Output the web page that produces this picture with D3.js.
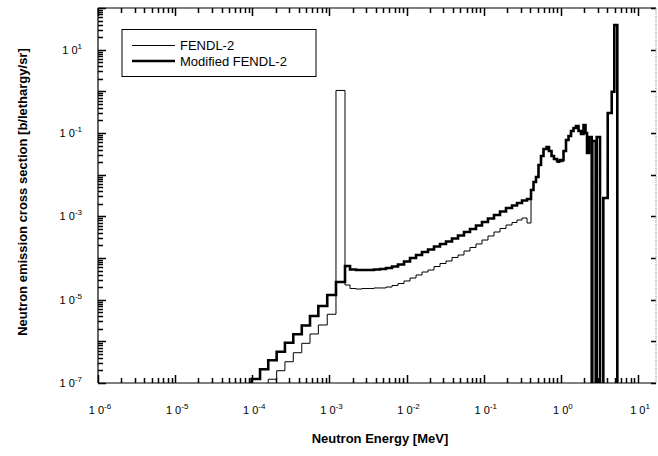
<!DOCTYPE html>
<html>
<head>
<meta charset="utf-8">
<script src="https://cdn.jsdelivr.net/npm/d3@7"></script>
<style>
body { margin: 0; background: #fff; }
text { font-family: "Liberation Sans", Arial, Helvetica, sans-serif; fill: #000; }
</style>
</head>
<body>
<svg id="chart" width="658" height="456"></svg>
<script>
// Group boundaries of the histogram (MeV)
const energyEdges = [
    7.7e-5, 9.8e-5, 1.26e-4, 1.61e-4, 2.07e-4, 2.65e-4, 3.40e-4, 4.38e-4, 5.60e-4, 7.18e-4,
    9.37e-4, 1.216e-3, 1.592e-3, 1.849e-3, 2.213e-3, 2.644e-3, 3.162e-3, 3.785e-3, 4.528e-3, 5.41e-3,
    6.48e-3, 7.74e-3, 9.27e-3, 1.109e-2, 1.326e-2, 1.586e-2, 1.897e-2, 2.269e-2, 2.713e-2, 3.245e-2,
    3.881e-2, 4.643e-2, 5.55e-2, 6.64e-2, 7.94e-2, 9.50e-2, 0.1136, 0.1359, 0.1626, 0.1945,
    0.2327, 0.2702, 0.3137, 0.3643, 0.4104, 0.442, 0.476, 0.513, 0.553, 0.596,
    0.652, 0.702, 0.757, 0.815, 0.892, 0.975, 1.083, 1.166, 1.257, 1.354,
    1.459, 1.572, 1.694, 1.825, 1.967, 2.088, 2.184, 2.318, 2.512, 2.557,
    2.830, 2.917, 3.219, 3.552, 4.051, 4.563, 4.932, 5.393, 17
];

// FENDL-2 (thin line), one value per group, b/lethargy/sr (1e-9 = empty group)
const fendlValues = [
    1e-9, 1e-9, 1e-9, 1.23e-7, 1.97e-7, 3.24e-7, 5.33e-7, 8.97e-7, 1.50e-6, 2.47e-6,
    4.46e-6, 1.05,
    2.25e-5, 1.85e-5, 1.80e-5, 1.85e-5, 1.85e-5, 1.91e-5, 1.91e-5, 2.01e-5, 2.19e-5, 2.44e-5,
    2.81e-5, 3.31e-5, 3.91e-5, 4.61e-5, 5.15e-5, 6.25e-5, 7.38e-5, 8.47e-5, 1.03e-4, 1.18e-4,
    1.47e-4, 1.79e-4, 2.17e-4, 2.70e-4, 3.37e-4, 4.21e-4, 5.11e-4, 6.19e-4, 7.11e-4, 8.17e-4,
    9.12e-4,
    6.92e-4, 4.29e-3, 6.67e-3, 8.79e-3, 1.71e-2, 2.81e-2, 4.13e-2, 4.61e-2, 3.70e-2, 2.81e-2,
    2.38e-2, 1.95e-2, 2.05e-2, 3.70e-2, 6.79e-2, 8.47e-2, 0.112, 0.132, 0.147, 0.112,
    9.46e-2, 0.156, 0.100, 3.31e-2, 8.02e-2, 1e-9, 6.43e-2, 1e-9, 8.02e-2, 1e-9,
    2.75e-3, 0.302, 0.98, 39, 1e-9
];

// Modified FENDL-2 (thick line)
const modifiedValues = [
    1e-9, 1.25e-7, 2.13e-7, 3.51e-7, 5.64e-7, 9.27e-7, 1.48e-6, 2.39e-6, 4.05e-6, 7.05e-6,
    1.29e-5, 2.65e-5,
    6.43e-5, 5.30e-5, 5.15e-5, 5.15e-5, 5.15e-5, 5.30e-5, 5.45e-5, 5.75e-5, 6.25e-5, 6.98e-5,
    8.24e-5, 1.00e-4, 1.18e-4, 1.39e-4, 1.60e-4, 1.89e-4, 2.17e-4, 2.49e-4, 2.94e-4, 3.47e-4,
    4.21e-4, 4.97e-4, 6.03e-4, 7.31e-4, 8.87e-4, 1.08e-3, 1.31e-3, 1.58e-3, 1.82e-3, 2.09e-3,
    2.40e-3,
    2.61e-3, 4.29e-3, 6.67e-3, 8.79e-3, 1.71e-2, 2.81e-2, 4.13e-2, 4.61e-2, 3.70e-2, 2.81e-2,
    2.38e-2, 2.13e-2, 2.25e-2, 3.70e-2, 6.79e-2, 8.47e-2, 0.112, 0.132, 0.147, 0.112,
    9.46e-2, 0.156, 0.100, 3.31e-2, 8.02e-2, 1e-9, 6.43e-2, 1e-9, 8.02e-2, 1e-9,
    2.75e-3, 0.302, 0.98, 39, 1e-9
];

// Axis decades
const xDecades = [-6, -5, -4, -3, -2, -1, 0, 1];
const yDecades = [-7, -6, -5, -4, -3, -2, -1, 0, 1, 2];
const yLabelDecades = [-7, -5, -3, -1, 1];

const legendLabels = ["FENDL-2", "Modified FENDL-2"];

// plot box
const box = { left: 98, right: 656, top: 8, bottom: 383 };

const svg = d3.select("#chart");

const x = d3.scaleLog().domain([1e-6, 1e1]).range([box.left, 638]);
const y = d3.scaleLog().domain([1e-7, 1e2]).range([box.bottom, box.top]);
const xMax = x.invert(box.right);

// minor tick values 2..9 per decade
function minorTicks(decades, maxValue) {
    const out = [];
    decades.forEach(function(d) {
        for (let k = 2; k <= 9; k++) {
            const v = k * Math.pow(10, d);
            if (v < maxValue) out.push(v);
        }
    });
    return out;
}

const xMajor = xDecades.map(d => Math.pow(10, d));
const yMajor = yDecades.map(d => Math.pow(10, d));
const xMinor = minorTicks(xDecades, xMax);
const yMinor = minorTicks(yDecades.slice(0, -1), 100);

svg.append("defs").append("clipPath")
    .attr("id", "plot-clip")
    .append("rect")
    .attr("x", box.left)
    .attr("y", box.top)
    .attr("width", box.right - box.left)
    .attr("height", box.bottom - box.top);

// ticks drawn inward from the frame as small filled rects
const tickG = svg.append("g").attr("fill", "#000");

function addXTicks(values, len) {
    [box.bottom - len, box.top].forEach(function(top) {
        tickG.append("g").selectAll("rect")
            .data(values)
            .enter().append("rect")
            .attr("x", d => Math.round(x(d)) - 0.25)
            .attr("y", top)
            .attr("width", 1.5)
            .attr("height", len);
    });
}
function addYTicks(values, xPos, len) {
    tickG.append("g").selectAll("rect")
        .data(values)
        .enter().append("rect")
        .attr("x", len > 0 ? xPos : xPos + len)
        .attr("y", d => Math.round(y(d)) - 0.25)
        .attr("width", Math.abs(len))
        .attr("height", 1.5);
}
addXTicks(xMajor, 8);
addXTicks(xMinor, 5);
addYTicks(yMajor, box.left, 8);
addYTicks(yMinor, box.left, 5);
addYTicks(yMajor, box.right, -5);

// frame
svg.append("line").attr("x1", box.left).attr("x2", box.left).attr("y1", box.top).attr("y2", box.bottom)
    .attr("stroke", "#000").attr("stroke-width", 1.2);
svg.append("line").attr("x1", box.left).attr("x2", box.right).attr("y1", box.bottom).attr("y2", box.bottom)
    .attr("stroke", "#000").attr("stroke-width", 1.2);
svg.append("line").attr("x1", box.left).attr("x2", box.right).attr("y1", box.top).attr("y2", box.top)
    .attr("stroke", "#000").attr("stroke-width", 1.2);
svg.append("line").attr("x1", box.right).attr("x2", box.right).attr("y1", box.top).attr("y2", box.bottom)
    .attr("stroke", "#888").attr("stroke-width", 1).attr("stroke-dasharray", "1,1");

// tick labels: "1 0" with superscript exponent
function powerLabel(sel, exp) {
    sel.append("tspan").text("1 0");
    sel.append("tspan").attr("dy", -5).attr("font-size", "8px").text(exp);
}

xDecades.forEach(function(d) {
    svg.append("text")
        .attr("x", x(Math.pow(10, d)) + 2)
        .attr("y", 414)
        .attr("text-anchor", "middle")
        .attr("font-size", "11px")
        .call(powerLabel, d);
});

yLabelDecades.forEach(function(d) {
    svg.append("text")
        .attr("x", 82)
        .attr("y", y(Math.pow(10, d)) + 4)
        .attr("text-anchor", "end")
        .attr("font-size", "11px")
        .call(powerLabel, d);
});

// axis titles
svg.append("text")
    .attr("x", 380)
    .attr("y", 443)
    .attr("text-anchor", "middle")
    .attr("font-size", "13px")
    .attr("font-weight", "bold")
    .text("Neutron Energy [MeV]");

svg.append("text")
    .attr("transform", "translate(27,192) rotate(-90)")
    .attr("text-anchor", "middle")
    .attr("font-size", "13px")
    .attr("font-weight", "bold")
    .text("Neutron emission cross section [b/lethargy/sr]");

// histogram lines
const stepLine = d3.line()
    .x(d => x(d[0]))
    .y(d => y(d[1]))
    .curve(d3.curveStepAfter);

function histPoints(values) {
    return energyEdges.map((e, i) => [e, values[Math.min(i, values.length - 1)]]);
}

const curves = svg.append("g").attr("clip-path", "url(#plot-clip)");

curves.append("path")
    .datum(histPoints(fendlValues))
    .attr("d", stepLine)
    .attr("fill", "none")
    .attr("stroke", "#000")
    .attr("stroke-width", 1);

curves.append("path")
    .datum(histPoints(modifiedValues))
    .attr("d", stepLine)
    .attr("fill", "none")
    .attr("stroke", "#000")
    .attr("stroke-width", 2.6);

// legend
const legend = svg.append("g");
legend.append("rect")
    .attr("x", 122).attr("y", 29.5)
    .attr("width", 194).attr("height", 47)
    .attr("fill", "#fff")
    .attr("stroke", "#000")
    .attr("stroke-width", 1);

legendLabels.forEach(function(label, i) {
    const ly = 45.5 + i * 15.5;
    legend.append("line")
        .attr("x1", 132).attr("x2", 175)
        .attr("y1", ly).attr("y2", ly)
        .attr("stroke", "#000")
        .attr("stroke-width", i === 0 ? 1 : 2.6);
    legend.append("text")
        .attr("x", 180)
        .attr("y", ly + 4.5)
        .attr("font-size", "13px")
        .text(label);
});
</script>
</body>
</html>
